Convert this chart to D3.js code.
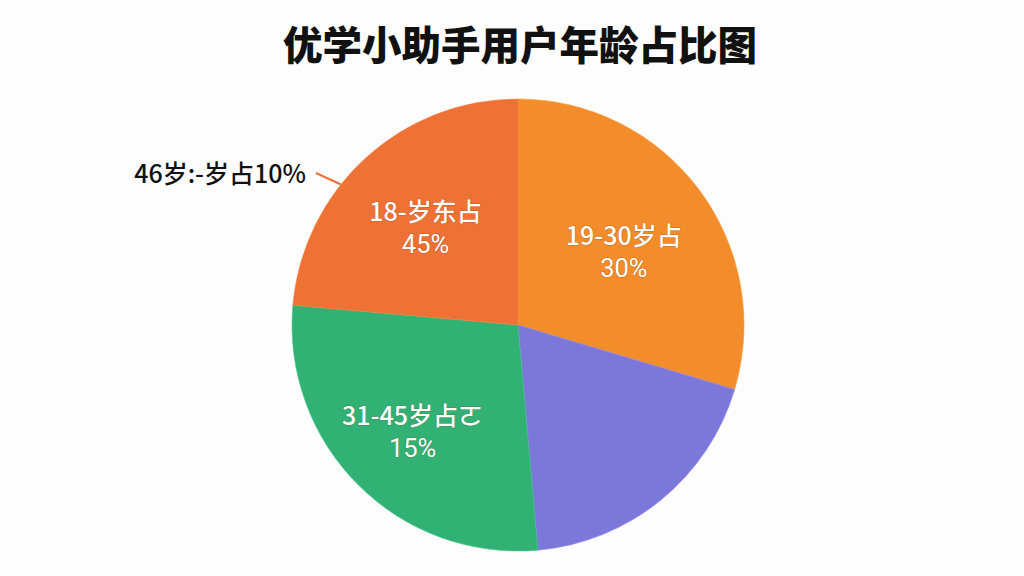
<!DOCTYPE html>
<html><head><meta charset="utf-8">
<script src="https://cdn.jsdelivr.net/npm/d3@7"></script>
<style>
html,body{margin:0;padding:0;background:#fdfdfd;}
svg{display:block;}
text{font-family:"Noto Sans CJK SC","Noto Sans",sans-serif;}
</style></head>
<body>
<svg id="chart" width="1024" height="576"></svg>
<script>
const categories = ["19-30岁", "无标签", "31-45岁", "18-岁"];
const sliceValues = [29.6, 19.0, 27.8, 23.6];
const colors = ["#F38C2B", "#7B78D9", "#31B274", "#EE7136"];
const labelLine1 = ["19-30岁占", null, "31-45岁占ㄛ", "18-岁东占"];
const labelLine2 = ["30%", null, "15%", "45%"];
const outsideLabel = "46岁:-岁占10%";
const title = "优学小助手用户年龄占比图";

const svg = d3.select("#chart");
const W = 1024, H = 576;
const cx = 518, cy = 325, R = 226;

svg.append("rect").attr("width", W).attr("height", H).attr("fill", "#fdfdfd");

svg.append("text")
  .attr("x", 520).attr("y", 42)
  .attr("text-anchor", "middle").attr("dominant-baseline", "central")
  .attr("font-size", 39.5).attr("font-weight", 900).attr("fill", "#111")
  .text(title);

const pie = d3.pie().sort(null).value(d => d)(sliceValues);
const arc = d3.arc().innerRadius(0).outerRadius(R);
const g = svg.append("g").attr("transform", `translate(${cx},${cy})`);

g.selectAll("path.slice").data(pie).join("path")
  .attr("class", "slice")
  .attr("d", arc)
  .attr("fill", (d, i) => colors[i])
  .attr("stroke", (d, i) => d3.color(colors[i]).brighter(0.3))
  .attr("stroke-width", 0.6);

// label placement: radius fraction and small nudges per slice
const labelRadius = [132, 0, 135, 140];
const labelNudge = [[0, 8], [0, 0], [-10, 14], [2, 8]];

pie.forEach((d, i) => {
  if (!labelLine1[i]) return;
  const la = d3.arc().innerRadius(0).outerRadius(2 * labelRadius[i]);
  let [x, y] = la.centroid(d);
  x += labelNudge[i][0]; y += labelNudge[i][1];
  const common = t => t
    .attr("text-anchor", "middle")
    .attr("fill", "#fff")
    .attr("font-size", 25)
    .attr("font-weight", 500)
    .attr("style", "paint-order:stroke;stroke:rgba(120,60,20,0.25);stroke-width:1.5px");
  g.append("text").call(common).attr("x", x).attr("y", y - 9).text(labelLine1[i]);
  g.append("text").call(common).attr("x", x).attr("y", y + 23)
    .attr("font-weight", 400).attr("font-size", 25.5)
    .style("font-family", "Roboto, 'Liberation Sans', sans-serif")
    .text(labelLine2[i]);
});

// outside label with leader line to the 18-岁 slice
const ang = -0.9; // radians from top, toward upper-left
const edge = [cx + R * Math.sin(ang), cy - R * Math.cos(ang)];
svg.append("line")
  .attr("x1", 316).attr("y1", 173)
  .attr("x2", edge[0]).attr("y2", edge[1])
  .attr("stroke", "#EE7136").attr("stroke-width", 2);

svg.append("text")
  .attr("x", 306).attr("y", 172)
  .attr("text-anchor", "end").attr("dominant-baseline", "central")
  .attr("font-size", 25).attr("font-weight", 500).attr("fill", "#111")
  .text(outsideLabel);
</script>
</body></html>
